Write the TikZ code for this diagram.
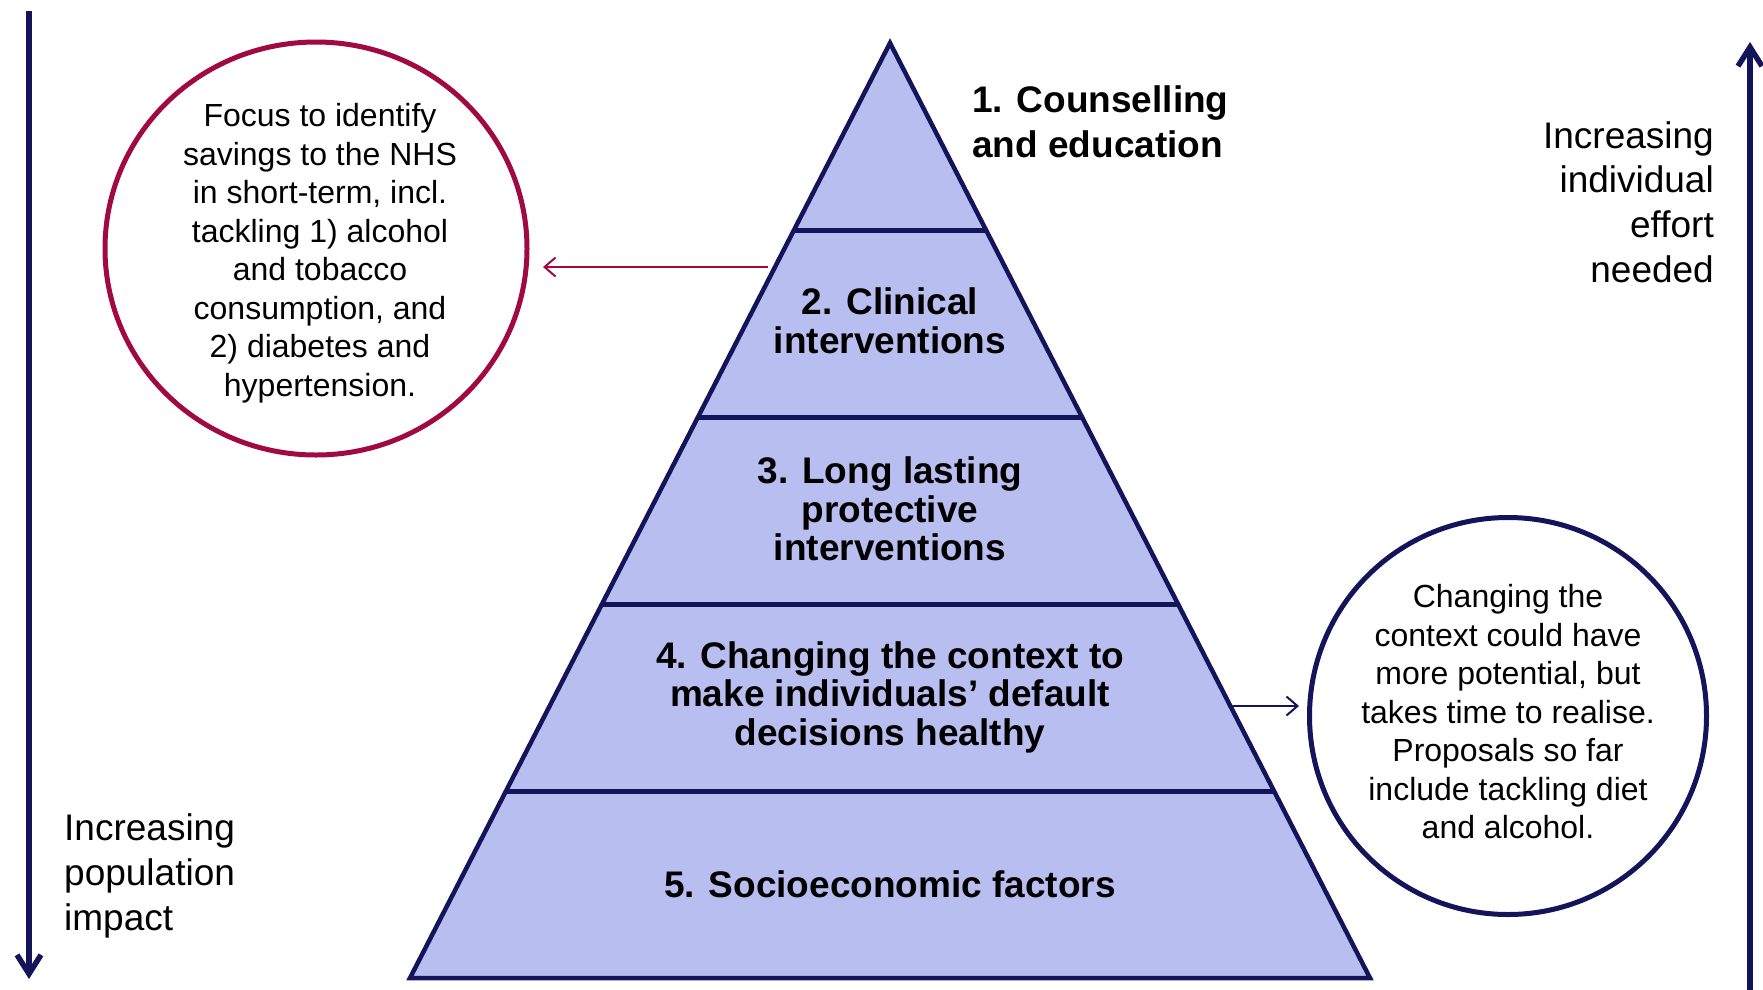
\documentclass[tikz,border=0pt]{standalone}
\usepackage{fontspec}
\setmainfont{Liberation Sans}
\usetikzlibrary{arrows.meta,shapes.geometric}
\definecolor{navy}{HTML}{14145A}
\definecolor{pyfill}{HTML}{B8BEF0}
\definecolor{crim}{HTML}{A00A40}
\begin{document}
\begin{tikzpicture}[x=1pt,y=-1pt,
  bandtext/.style={font=\fontsize{37}{38.5}\selectfont\bfseries, align=center, inner sep=0pt},
  circtext/.style={font=\fontsize{32}{38.5}\selectfont, align=center, inner sep=0pt},
  sidetext/.style={font=\fontsize{37}{44.8}\selectfont, inner sep=0pt},
  bigarrow/.style={draw=navy, line width=5.5pt, -{Straight Barb[length=19pt,width=24pt]}},
  smallarrow/.style={line width=2pt, -{Straight Barb[length=11pt,width=19pt]}},
  ring/.style={ellipse, line width=5pt, fill=white, inner sep=0pt},
  bandline/.style={draw=navy, line width=5pt}
]
\useasboundingbox (0,0) rectangle (1763,989);

% pyramid
\coordinate (apex) at (890,43);
\coordinate (bl) at (410,978);
\coordinate (br) at (1370,978);
\fill[pyfill] (apex) -- (br) -- (bl) -- cycle;
\coordinate (l1) at (794,230); \coordinate (r1) at (986,230);
\coordinate (l2) at (698,417); \coordinate (r2) at (1082,417);
\coordinate (l3) at (602,604); \coordinate (r3) at (1178,604);
\coordinate (l4) at (506,791); \coordinate (r4) at (1274,791);
\draw[bandline] (l1) -- (r1);
\draw[bandline] (l2) -- (r2);
\draw[bandline] (l3) -- (r3);
\draw[bandline] (l4) -- (r4);
\draw[navy, line width=4.5pt, line join=miter] (bl) -- (apex) -- (br) -- cycle;

% band labels
\node[sidetext, font=\fontsize{37}{45}\selectfont\bfseries, anchor=west, align=left] (b1) at (972,122) {1. Counselling\\and education};
\node[bandtext] (b2) at (890,321) {2. Clinical\\interventions};
\node[bandtext] (b3) at (890,509) {3. Long lasting\\protective\\interventions};
\node[bandtext] (b4) at (890,697) {4. Changing the context to\\make individuals’ default\\decisions healthy};
\node[bandtext] (b5) at (890,884) {5. Socioeconomic factors};

% circles
\node[ring, draw=crim, minimum width=422pt, minimum height=413pt] (lc) at (316,248.5) {};
\node[circtext] (lct) at (320,253) {Focus to identify\\savings to the NHS\\in short-term, incl.\\tackling 1) alcohol\\and tobacco\\consumption, and\\2) diabetes and\\hypertension.};
\node[ring, draw=navy, minimum width=397pt, minimum height=397pt] (rc) at (1508,716) {};
\node[circtext] (rct) at (1508,712) {Changing the\\context could have\\more potential, but\\takes time to realise.\\Proposals so far\\include tackling diet\\and alcohol.};

% small arrows
\coordinate (las) at (768,267);
\coordinate (lae) at (543,267);
\draw[smallarrow, draw=crim] (las) -- (lae);
\coordinate (ras) at (1233,706);
\coordinate (rae) at (1299,706);
\draw[smallarrow, draw=navy] (ras) -- (rae);

% side arrows
\coordinate (dtop) at (29,11);
\coordinate (dbot) at (29,979);
\draw[bigarrow] (dtop) -- (dbot);
\coordinate (ubot) at (1750,992);
\coordinate (utop) at (1750,42);
\draw[bigarrow] (ubot) -- (utop);

% side texts
\node[sidetext, anchor=east, align=right] (rt) at (1714,202) {Increasing\\individual\\effort\\needed};
\node[sidetext, anchor=west, align=left] (lt) at (64,876) {Increasing\\population\\impact};
\end{tikzpicture}
\end{document}
